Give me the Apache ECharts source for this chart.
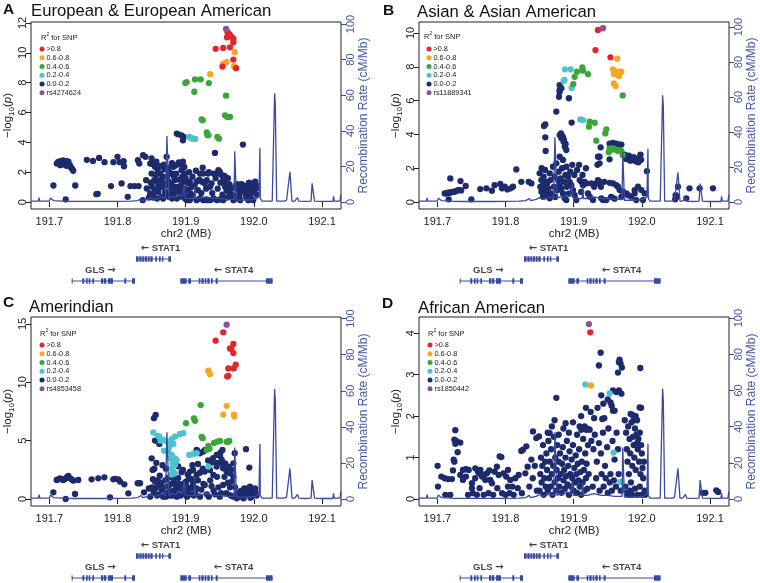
<!DOCTYPE html>
<html><head><meta charset="utf-8">
<script src="https://cdn.jsdelivr.net/npm/echarts@6/dist/echarts.min.js"></script>
<style>html,body{margin:0;padding:0;background:#fff}#c{width:760px;height:583px}</style>
</head><body><div id="c"></div>
<script>
// ---------------- DATA ----------------
const xTicks = [191.7, 191.8, 191.9, 192.0, 192.1];
const recTicks = [0, 20, 40, 60, 80, 100];
const r2Names = ['>0.8', '0.6-0.8', '0.4-0.6', '0.2-0.4', '0.0-0.2'];
const panelTitles = ['European & European American', 'Asian & Asian American', 'Amerindian', 'African American'];
const panelLetters = ['A', 'B', 'C', 'D'];
const leadNames = ['rs4274624', 'rs11889341', 'rs4853458', 'rs1850442'];
const yTicksA = [0, 2, 4, 6, 8, 10, 12];
const yTicksB = [0, 2, 4, 6, 8, 10];
const yTicksC = [0, 5, 10, 15];
const yTicksD = [0, 1, 2, 3, 4];

// recombination rate (cM/Mb), shared by all panels
const recomb = [[191.673,0.5],[191.684,0.5],[191.685,2.4],[191.686,0.5],[191.700,0.5],[191.7015,2.2],[191.703,1.2],[191.706,0.8],[191.72,0.5],[191.722,1.0],[191.724,0.4],[191.74,0.3],[191.76,0.3],[191.78,0.3],[191.80,0.4],[191.82,0.5],[191.83,0.8],[191.8345,2.0],[191.837,0.8],[191.845,1.5],[191.85,2.5],[191.855,1.5],[191.86,2.0],[191.865,3.0],[191.8705,2.0],[191.8725,37],[191.8745,37],[191.8755,2.0],[191.88,3.0],[191.885,2.5],[191.89,4.0],[191.895,3.0],[191.8975,2.0],[191.898,10],[191.8995,2.0],[191.905,2.0],[191.9125,2.0],[191.9135,9],[191.9145,2.0],[191.92,2.0],[191.93,3.0],[191.94,2.0],[191.95,2.0],[191.96,1.5],[191.971,1.5],[191.972,28.5],[191.9735,28.5],[191.9745,1.0],[191.98,1.0],[191.99,1.0],[192.0,1.5],[192.003,1.5],[192.005,2.0],[192.0075,3.0],[192.009,30.5],[192.0095,2.0],[192.012,0.5],[192.02,0.5],[192.027,0.5],[192.0305,61],[192.0315,55],[192.0335,0.5],[192.038,0.5],[192.040,1.5],[192.042,0.5],[192.045,0.5],[192.048,1.0],[192.053,17],[192.0545,17],[192.056,0.5],[192.06,0.5],[192.064,2.5],[192.066,0.5],[192.075,0.3],[192.084,0.5],[192.0855,10.5],[192.0875,10.5],[192.089,0.5],[192.10,0.3],[192.116,0.3],[192.117,3.2],[192.118,0.5],[192.1265,0.5],[192.1275,4.0]];

// Panel A
const A_lead = [[191.9593,11.6]];
const A_r08 = [[191.9615,11.38],[191.9635,11.27],[191.9655,11.16],[191.968,11.04],[191.970,10.93],[191.970,10.71],[191.9606,11.04],[191.944,10.27],[191.955,10.33],[191.965,10.37],[191.970,9.55],[191.954,9.08],[191.974,8.97]];
const A_r06 = [[191.972,10.04],[191.960,9.37],[191.955,9.27],[191.971,9.1],[191.936,8.57]];
const A_r04 = [[191.9015,8.04],[191.8995,7.97],[191.9137,8.22],[191.922,8.22],[191.934,7.97],[191.9127,7.39],[191.9592,7.13],[191.9235,5.54],[191.925,5.48],[191.9577,5.81],[191.961,5.70],[191.965,5.70],[191.931,4.66],[191.932,4.48],[191.9465,4.36],[191.949,4.25]];
const A_r02 = [[191.9054,4.36],[191.910,4.25],[191.914,4.23],[191.934,4.48],[191.9085,4.30]];
const A_r00 = [[191.711,2.58],[191.713,2.69],[191.716,2.74],[191.718,2.63],[191.720,2.80],[191.723,2.65],[191.725,2.74],[191.728,2.58],[191.730,2.47],[191.733,2.25],[191.735,2.10],[191.716,2.47],[191.720,2.52],[191.725,2.43],[191.728,2.70],[191.722,2.60],[191.731,2.35],
[191.706,1.11],[191.724,0.18],[191.738,1.11],[191.755,2.83],[191.764,2.76],[191.773,2.96],[191.769,0.53],[191.771,0.55],[191.781,2.67],[191.7905,1.07],[191.794,2.67],[191.800,3.03],[191.803,2.67],[191.809,2.74],[191.8095,2.40],[191.806,1.25],[191.815,0.35],[191.819,1.07],[191.825,1.07],[191.831,1.07],[191.830,2.81],[191.832,2.58],[191.8375,3.14],[191.841,3.03],[191.850,2.92],[191.848,2.58],[191.842,1.47],[191.837,0.13],[191.843,0.91],
[191.850,1.91],[191.852,2.54],[191.855,2.36],[191.854,1.47],[191.858,1.36],[191.860,0.69],[191.848,0.58],[191.861,1.02],[191.865,0.36],[191.867,1.69],[191.870,1.14],[191.872,3.03],[191.875,1.36],[191.877,0.58],[191.880,1.91],[191.882,2.36],[191.884,1.02],[191.887,4.59],[191.889,4.54],[191.894,4.47],[191.897,4.36],[191.896,4.14],[191.892,2.58],[191.894,2.14],[191.897,1.36],[191.899,1.91],[191.902,1.36],[191.904,1.25],[191.906,1.36],[191.909,1.02],[191.911,0.36],[191.916,1.36],[191.921,1.91],[191.924,1.36],[191.926,1.91],[191.928,1.25],[191.931,1.47],[191.933,1.91],[191.936,1.02],[191.938,1.25],[191.941,1.91],[191.943,3.29],[191.946,1.91],[191.948,2.14],[191.950,2.03],[191.953,1.80],[191.955,1.47],[191.958,1.02],[191.960,0.80],[191.963,0.69],[191.965,0.58],[191.968,0.36],[191.970,0.13],[191.975,0.91],[191.977,0.80],[191.980,0.69],[191.984,3.85],[191.985,0.80],[191.987,0.76],[191.990,0.91],[191.992,1.02],[191.994,0.91],[191.997,1.14],[191.999,1.25],[192.002,1.36],[191.992,0.13],[191.980,0.13],[191.999,0.13],
[191.851,1.02],[191.853,0.58],[191.855,0.80],[191.858,0.24],[191.860,1.14],[191.862,1.47],[191.865,1.02],[191.867,0.24],[191.870,0.69],[191.872,0.47],[191.875,0.36],[191.877,1.02],[191.880,0.24],[191.882,0.58],[191.884,1.47],[191.887,0.24],[191.889,1.02],[191.892,0.69],[191.894,0.36],[191.897,0.58],[191.899,0.24],[191.902,0.13],[191.904,0.36],[191.906,0.13],[191.909,0.47],[191.916,0.13],[191.921,0.24],[191.926,0.13],[191.931,0.13],[191.936,0.13],[191.941,0.24],[191.946,0.13],[191.950,0.18],[191.955,0.13],
[191.890,2.65],[191.893,2.50],[191.896,2.70],[191.898,2.35],[191.885,2.45],[191.880,2.60],[191.957,1.75],[191.962,1.60],[191.978,1.00],[191.982,1.20],[191.988,0.55],[191.995,0.45],[192.003,1.15],[192.005,0.95],[191.971,0.45],[191.973,1.10],
[191.852,0.3],[191.856,1.8],[191.859,2.1],[191.863,1.9],[191.866,1.3],[191.869,2.2],[191.873,1.7],[191.876,2.0],[191.879,1.2],[191.881,0.9],[191.883,1.7],[191.886,1.9],[191.888,0.7],[191.891,1.5],[191.893,1.1],[191.895,1.7],[191.898,0.9],[191.900,1.6],[191.903,0.8],[191.905,2.0],[191.907,0.6],[191.910,1.7],[191.913,1.1],[191.915,2.1],[191.918,0.8],[191.920,1.5],[191.923,0.6],[191.925,2.3],[191.930,0.9],[191.934,2.0],[191.939,0.6],[191.944,1.6],[191.947,0.9],[191.951,1.3],[191.954,0.5],[191.957,1.25],[191.961,0.3],[191.964,1.2],[191.967,0.9],[191.972,0.2],[191.976,1.2],[191.979,0.4],[191.983,0.9],[191.986,1.1],[191.989,0.3],[191.991,0.75],[191.993,1.3],[191.996,0.7],[191.998,1.0],[192.001,0.8],[192.004,0.5],[191.846,0.3],[191.849,1.3],[191.857,2.7],[191.862,2.4],[191.868,2.5],[191.874,2.3]];

// Panel B
const B_lead = [[191.943,10.28]];
const B_r08 = [[191.9356,10.18],[191.932,8.99],[191.954,8.56]];
const B_r06 = [[191.964,8.48],[191.9576,7.85],[191.959,7.57],[191.9674,7.71],[191.970,7.71],[191.9664,7.46],[191.959,7.02],[191.9616,6.86],[191.9605,7.75]];
const B_r04 = [[191.972,6.31],[191.9127,7.97],[191.9136,7.77],[191.921,7.57],[191.905,7.71],[191.9014,7.41],[191.8995,6.98],[191.9234,4.75],[191.9308,4.69],[191.9224,4.46],[191.948,4.30],[191.9464,4.06],[191.9332,3.63],[191.9527,3.18],[191.955,3.10],[191.9576,3.18],[191.960,3.12],[191.9626,3.08],[191.965,3.02],[191.970,3.02],[191.972,2.78],[191.9515,2.95]];
const B_r02 = [[191.8872,7.85],[191.8955,7.85],[191.8853,7.16],[191.8865,7.22],[191.897,6.75],[191.9098,4.89],[191.9136,4.85]];
const B_r00 = [[191.8794,6.92],[191.882,6.73],[191.8794,6.53],[191.893,6.14],[191.8785,6.23],[191.8795,6.63],[191.8745,5.35],[191.897,4.70],
[191.8584,4.60],[191.8565,4.50],[191.8584,3.83],[191.8589,3.02],[191.882,3.77],[191.8834,3.90],[191.8843,3.83],[191.8814,4.06],[191.8858,3.67],[191.8873,3.47],[191.8795,3.96],[191.8853,3.57],[191.8882,3.43],[191.887,3.27],[191.8892,3.08],[191.9396,3.24],[191.938,2.68],[191.9527,2.53],[192.0075,1.83],
[191.975,2.80],[191.978,2.70],[191.981,2.75],[191.984,2.60],[191.987,2.50],[191.990,2.45],[191.993,2.55],[191.996,2.60],[191.998,2.80],[191.977,2.55],[191.983,2.45],[191.988,2.65],[191.992,2.40],[191.995,2.35],[191.999,2.50],[191.9528,3.45],[191.9577,3.50],[191.9626,3.45],[191.9675,3.40],[191.970,3.40],[191.9357,2.68],[191.938,2.29],
[191.719,1.40],[191.7108,0.51],[191.7132,0.51],[191.7156,0.55],[191.718,0.55],[191.7205,0.58],[191.723,0.60],[191.7254,0.61],[191.7279,0.65],[191.7303,0.71],[191.7328,0.71],[191.735,0.69],[191.7166,0.16],[191.734,1.24],[191.7416,0.95],[191.7499,0.16],[191.763,0.77],[191.772,0.81],[191.780,0.67],[191.784,1.00],[191.7924,1.07],[191.7949,0.81],[191.7988,0.91],[191.8027,0.75],[191.8076,0.81],[191.811,0.91],[191.8159,1.93],[191.8232,1.20],[191.834,1.20],[191.838,1.10],
[191.8501,1.70],[191.8526,1.30],[191.855,1.00],[191.8575,0.81],[191.860,0.61],[191.8624,0.41],[191.8648,0.22],[191.8526,0.61],[191.855,0.32],[191.860,1.20],[191.8648,1.70],[191.8697,2.09],[191.8721,1.50],[191.877,1.30],[191.8795,1.00],[191.8819,0.81],[191.8843,0.51],[191.8868,0.22],[191.8892,0.12],[191.8746,2.29],[191.8795,2.68],[191.8843,2.49],[191.8892,2.09],[191.8917,1.50],[191.8941,1.20],[191.8966,1.00],[191.899,0.71],[191.9015,0.41],[191.9039,0.12],[191.9088,1.30],[191.9112,1.20],[191.9137,1.00],[191.9161,1.20],[191.9186,1.10],[191.921,0.51],[191.9235,0.32],[191.9284,0.12],[191.9333,1.10],[191.9357,1.30],[191.9381,1.20],[191.9406,0.22],[191.943,0.12],[191.9479,0.12],[191.9528,1.14],[191.9577,1.10],[191.9626,1.00],[191.965,0.91],[191.9675,0.71],[191.9724,0.61],[191.9773,0.51],[191.9797,0.41],[191.9846,0.32],[191.9895,0.51],[191.9919,0.12],[191.9944,0.91],[191.9993,0.71],[192.0017,0.12],[192.0042,0.51],[191.9895,0.71],
[191.851,0.90],[191.853,2.00],[191.856,1.50],[191.858,1.90],[191.861,1.10],[191.863,0.80],[191.866,1.30],[191.868,0.50],[191.871,0.90],[191.873,0.30],[191.876,0.70],[191.878,1.80],[191.881,1.40],[191.883,2.00],[191.886,1.20],[191.888,1.60],[191.890,0.90],[191.893,0.50],[191.895,1.80],[191.898,2.20],[191.901,1.60],[191.905,1.90],[191.908,2.20],[191.911,0.60],[191.913,1.60],[191.918,2.00],[191.926,1.10],[191.930,0.90],[191.935,2.20],[191.940,0.90],[191.945,1.20],[191.955,0.30],[191.960,0.20],[191.970,0.30],
[192.0496,0.41],[192.053,0.91],[192.0653,0.22],[192.070,0.81],[192.0848,0.81],[192.1044,0.81],[192.049,0.16],[192.051,0.30]];

// Panel C
const C_lead = [[191.9601,14.94]];
const C_r08 = [[191.9552,14.29],[191.944,13.57],[191.970,13.29],[191.965,12.91],[191.967,12.86],[191.970,12.51],[191.9734,11.51],[191.9705,11.19],[191.9626,11.19],[191.9626,10.56],[191.961,10.50]];
const C_r06 = [[191.9332,11.0],[191.9357,10.7],[191.9601,7.99],[191.9552,7.24],[191.9709,7.24],[191.9714,7.07]];
const C_r04 = [[191.922,8.05],[191.9122,6.90],[191.9137,6.70],[191.9005,6.50],[191.9235,5.33],[191.925,5.21],[191.9464,4.92],[191.9504,4.98],[191.9626,4.90],[191.964,4.98],[191.960,4.90],[191.9416,4.81],[191.9333,4.55],[191.9308,4.21],[191.935,4.30]];
const C_r02 = [[191.8526,5.70],[191.8614,5.35],[191.8672,5.07],[191.8721,4.92],[191.877,4.78],[191.8819,4.72],[191.8682,4.15],[191.8746,4.07],[191.8795,5.12],[191.8843,5.35],[191.8917,5.58],[191.8966,5.64],[191.8795,3.78],[191.8843,3.49],[191.882,3.21],[191.8843,2.92],[191.8795,2.63],[191.882,2.35],[191.881,3.06],[191.8868,3.35],[191.9054,3.78],[191.9113,3.86],[191.9161,3.92],[191.9333,2.78],[191.863,5.00],[191.859,5.40],[191.876,4.50],[191.878,3.50],[191.884,2.20],[191.8795,2.10]];
const C_r00 = [[191.8535,6.93],[191.856,7.21],[191.855,5.01],[191.8614,4.72],[191.8501,3.49],[191.8516,2.49],[191.921,3.92],[191.926,4.07],[191.9284,4.21],[191.9161,4.21],[191.9455,3.78],[191.9504,3.69],[191.970,3.06],[191.9885,4.27],[191.9934,2.69],[191.917,4.12],[191.938,3.12],[191.951,3.98],[191.954,4.21],[191.972,3.92],
[191.7108,1.63],[191.7132,1.69],[191.7156,1.77],[191.718,1.69],[191.7205,1.63],[191.723,1.72],[191.7254,1.86],[191.7279,1.98],[191.7303,1.77],[191.7328,1.69],[191.7352,1.57],[191.7425,1.63],[191.7059,0.57],[191.724,0.0],[191.7377,0.43],[191.762,1.69],[191.7719,1.77],[191.7807,1.86],[191.789,0.14],[191.7939,1.69],[191.7963,1.72],[191.8012,1.69],[191.8037,1.49],[191.810,1.26],[191.8159,0.49],[191.8296,1.35],[191.833,1.35],[191.8389,0.57],
[191.9064,2.35],[191.911,2.49],[191.916,2.06],[191.921,2.26],[191.928,2.35],[191.9357,2.49],[191.9406,2.06],[191.9455,2.78],[191.9528,3.06],[191.955,2.63],[191.9601,2.35],[191.965,2.20],[191.970,1.92],[191.9675,2.49],[191.963,2.78],[191.958,3.06],[191.953,3.35],
[191.851,1.0],[191.853,0.6],[191.855,1.5],[191.858,0.3],[191.860,1.2],[191.862,2.0],[191.865,0.8],[191.867,0.2],[191.870,1.6],[191.872,0.5],[191.875,1.1],[191.877,0.3],[191.880,1.9],[191.882,0.7],[191.884,1.3],[191.887,0.2],[191.889,1.8],[191.892,0.9],[191.894,2.3],[191.897,0.5],[191.899,1.4],[191.902,0.2],[191.904,1.0],[191.906,0.4],[191.909,1.7],[191.912,0.3],[191.916,0.9],[191.921,0.2],[191.926,1.3],[191.931,0.4],[191.936,1.6],[191.941,0.7],[191.946,1.9],[191.950,0.2],[191.955,1.2],[191.960,0.5],[191.965,1.0],[191.968,1.5],[191.970,0.2],[191.854,2.6],[191.857,3.1],[191.866,2.9],[191.871,2.6],[191.889,2.8],[191.896,2.5],[191.903,2.1],[191.910,2.9],[191.918,3.0],[191.925,2.6],[191.933,3.3],[191.940,3.5],[191.946,3.1],
[191.9797,0.20],[191.9822,0.34],[191.9846,0.43],[191.987,0.54],[191.9895,0.77],[191.9919,0.92],[191.9944,1.06],[191.9968,0.20],[191.9993,0.50],[192.0017,0.90],[191.975,0.06],[191.985,0.06],[191.995,0.10],[192.004,0.30],
[191.852,1.7],[191.856,0.9],[191.859,1.6],[191.861,0.4],[191.864,1.4],[191.868,1.0],[191.871,0.2],[191.874,1.8],[191.876,0.6],[191.879,1.3],[191.881,0.3],[191.883,1.7],[191.886,0.9],[191.888,0.4],[191.891,1.3],[191.893,0.3],[191.895,1.0],[191.898,0.8],[191.901,1.5],[191.903,0.5],[191.905,1.8],[191.908,0.9],[191.911,1.3],[191.914,0.5],[191.918,1.6],[191.923,0.8],[191.928,1.2],[191.934,0.2],[191.938,1.1],[191.943,0.4],[191.948,1.0],[191.952,0.5],[191.957,1.9],[191.962,1.4],[191.966,0.3],[191.9725,1.0],[191.976,0.5],[191.981,0.7],[191.986,0.9],[191.991,0.4],[191.997,0.7],[192.002,0.6],[191.848,0.2],[191.846,0.9]];

// Panel D
const D_lead = [[191.9224,4.22]];
const D_r08 = [[191.9244,4.02]];
const D_r06 = [[191.9253,2.74]];
const D_r04 = [];
const D_r02 = [[191.9171,2.76],[191.9528,2.55],[191.9586,1.12],[191.9684,0.41]];
const D_r00 = [[191.9396,3.53],[191.937,3.22],[191.9674,3.36],[191.9688,3.27],[191.9708,3.17],[191.9664,3.30],[191.965,3.05],[191.9978,3.16],[191.9406,2.50],[191.9576,2.62],[191.9626,2.58],[191.9664,2.62],[191.970,2.54],[191.9435,2.30],[191.954,2.33],[191.9557,2.25],[191.9576,2.13],[191.960,2.13],[191.9968,2.21],[191.999,2.20],[191.9836,2.05],[191.986,2.03],[191.942,1.93],[191.8882,1.83],[191.8746,2.44],
[191.7264,1.66],[191.725,1.43],[191.7288,1.39],[191.7337,1.36],[191.7264,1.33],[191.7298,1.13],[191.725,0.90],[191.7229,0.69],[191.7214,0.48],[191.724,0.95],[191.7004,0.80],[191.7059,0.54],[191.7107,0.50],[191.7009,0.30],[191.7156,0.48],[191.719,0.10],[191.7117,0.10],
[191.7337,0.58],[191.7376,0.70],[191.742,0.72],[191.746,0.70],[191.7376,0.46],[191.742,0.54],[191.7508,0.38],[191.7508,0.26],[191.7557,0.74],[191.7596,0.66],[191.7631,0.70],[191.7655,0.54],[191.7704,0.46],[191.7728,0.62],[191.7763,0.69],[191.7777,0.46],[191.7801,0.38],[191.7874,0.78],[191.790,0.58],[191.7939,1.01],[191.8036,0.70],[191.807,0.46],[191.8144,0.50],[191.8193,0.58],[191.8036,0.30],
[191.745,0.10],[191.752,0.14],[191.758,0.10],[191.762,0.26],[191.768,0.10],[191.775,0.14],[191.782,0.10],[191.788,0.26],[191.795,0.14],[191.800,0.10],[191.806,0.14],[191.812,0.10],[191.818,0.26],[191.824,0.14],[191.7555,0.50],[191.7615,0.62],[191.7685,0.58],[191.784,0.66],[191.797,0.62],[191.801,0.54],[191.810,0.30],
[191.7914,1.03],[191.8232,1.16],[191.8257,1.19],[191.8306,1.27],[191.8403,1.63],[191.8452,1.47],[191.8491,1.51],[191.8291,0.62],[191.8325,0.78],[191.8648,1.59],[191.835,0.30],[191.840,0.50],[191.843,0.80],[191.846,0.20],[191.838,0.95],
[191.850,0.2],[191.851,0.6],[191.852,1.0],[191.853,0.4],[191.854,0.8],[191.855,1.3],[191.856,0.1],[191.857,0.5],[191.858,0.9],[191.859,0.3],[191.860,1.1],[191.861,0.7],[191.862,0.2],[191.863,1.4],[191.864,0.5],[191.865,0.9],[191.866,0.3],[191.867,1.2],[191.868,0.6],[191.869,0.1],[191.870,0.8],[191.871,1.5],[191.872,0.4],[191.873,1.0],[191.874,0.2],[191.875,0.7],[191.876,1.3],[191.877,0.5],[191.878,0.9],[191.879,0.3],[191.880,1.1],[191.881,0.6],[191.882,0.15],[191.883,0.85],[191.884,1.25],[191.885,0.45],[191.886,0.7],[191.887,0.25],[191.888,1.0],[191.889,0.55],[191.890,1.4],[191.891,0.35],[191.892,0.8],[191.893,0.1],[191.894,1.15],[191.895,0.6],[191.896,0.3],[191.897,0.95],[191.898,0.5],[191.899,1.3],[191.900,0.2],[191.901,0.75],[191.902,0.4],[191.903,1.05],[191.904,0.6],[191.905,0.15],[191.906,0.85],[191.907,0.45],[191.908,1.2],[191.909,0.3],[191.910,0.65],[191.911,0.1],[191.912,0.9],[191.913,0.4],[191.914,1.45],[191.915,0.7],[191.916,0.2],[191.917,1.1],[191.918,0.5],[191.919,0.85],[191.920,0.25],[191.921,1.3],[191.922,0.6],
[191.862,1.6],[191.868,1.75],[191.872,1.9],[191.878,1.55],[191.885,1.7],[191.893,1.6],[191.899,1.85],[191.905,1.55],[191.9088,1.75],[191.9112,1.67],[191.9137,1.71],[191.9161,1.75],[191.9186,1.67],[191.921,1.69],[191.9235,1.67],[191.926,1.4],[191.929,1.2],[191.931,1.55],[191.934,0.9],[191.937,1.35],[191.940,1.1],[191.943,1.6],[191.946,0.8],[191.949,1.25],[191.951,1.7],[191.954,0.6],[191.957,1.4],[191.960,0.95],[191.963,1.6],[191.965,1.2],[191.925,2.1],[191.930,1.95],[191.935,2.2],[191.945,1.95],[191.950,2.4],[191.918,2.2],[191.911,2.0],[191.928,0.3],[191.933,0.5],[191.938,0.2],[191.941,0.6],[191.944,0.3],[191.947,0.5],[191.950,0.15],[191.953,0.4],[191.956,0.2],[191.959,0.45],[191.962,0.3],[191.966,0.6],[191.969,0.2],
[191.975,1.9],[191.977,1.6],[191.978,1.2],[191.979,0.9],[191.980,1.75],[191.981,0.6],[191.982,1.45],[191.983,1.1],[191.984,0.4],[191.985,1.85],[191.986,0.8],[191.987,1.5],[191.988,1.3],[191.989,1.0],[191.990,1.7],[191.991,0.7],[191.992,1.55],[191.993,1.35],[191.994,1.2],[191.995,1.45],[191.996,0.9],[191.997,1.6],[191.998,0.6],[191.999,1.3],[192.000,1.1],[192.001,0.75],[192.002,0.5],[192.003,0.9],[192.004,0.2],[192.005,0.1],[191.976,0.3],[191.978,0.15],[191.980,0.1],[191.983,0.2],[191.986,0.1],[191.990,0.25],[191.994,0.1],[191.997,0.3],[192.000,0.1],[191.988,1.9],[191.991,2.0],[191.993,1.9],
[192.0888,0.15],[192.0932,0.15],[192.1093,0.21],[192.112,0.17]];

// genes (MB)
const geneNames = ['GLS', 'STAT1', 'STAT4'];
const geneStart = [191.7328, 191.8271, 191.8922];
const geneEnd = [191.8257, 191.8785, 192.0276];
const geneStrand = [1, -1, -1];
const geneRow = [0.5, 1.5, 0.5];
const geneExons = [
  [[191.7328,191.7342],[191.7484,191.7513],[191.7538,191.7562],[191.7577,191.7601],[191.7631,191.7655],[191.7758,191.7787],[191.7797,191.7836],[191.7861,191.7934],[191.8100,191.8129],[191.8213,191.8257]],
  [[191.8271,191.8310],[191.8320,191.8355],[191.8364,191.8394],[191.8403,191.8433],[191.8443,191.8472],[191.8482,191.8516],[191.8555,191.8579],[191.8609,191.8633],[191.8653,191.8672],[191.8746,191.8785]],
  [[191.8922,191.9015],[191.9039,191.9078],[191.9191,191.9215],[191.9230,191.9264],[191.9279,191.9303],[191.9318,191.9352],[191.9372,191.9396],[191.9440,191.9470],[192.0178,192.0276]]
];

// ---------------- BUILD ----------------
const BLUE = '#3a4a9f';
const BLUE_TXT = '#4656a8';
const COLORS = ['#e3262b', '#f5a623', '#3aa638', '#4ec2cf', '#1d2a6c', '#8c4fa1'];
const FONT = '"Liberation Sans", Arial, sans-serif';
const X_MIN = 191.6731, X_MAX = 192.1279;

const panelData = [
  [A_r08, A_r06, A_r04, A_r02, A_r00, A_lead],
  [B_r08, B_r06, B_r04, B_r02, B_r00, B_lead],
  [C_r08, C_r06, C_r04, C_r02, C_r00, C_lead],
  [D_r08, D_r06, D_r04, D_r02, D_r00, D_lead]
];
const yTicks = [yTicksA, yTicksB, yTicksC, yTicksD];
// layout (px)
const L = [
  {left: 31, top: 22, w: 310, h: 187, ymin: -0.464, ymax: 12.064, rmin: -3.93, rmax: 101.1, gTop: 248, legL: 39.5, legT: 45, hdrL: 41, hdrT: 32, ltrL: 3, ltrT: 2, ttlL: 31, ttlT: 3},
  {left: 419, top: 22, w: 310, h: 187, ymin: -0.41, ymax: 10.65, rmin: -4.0, rmax: 102.9, gTop: 248, legL: 426.5, legT: 45, hdrL: 424, hdrT: 31, ltrL: 383, ltrT: 3, ttlL: 417, ttlT: 4},
  {left: 31, top: 317, w: 310, h: 189, ymin: -0.6, ymax: 15.6, rmin: -3.87, rmax: 100.9, gTop: 545, legL: 39.5, legT: 341, hdrL: 40, hdrT: 328, ltrL: 3, ltrT: 295, ttlL: 29, ttlT: 299},
  {left: 419, top: 317, w: 310, h: 189, ymin: -0.169, ymax: 4.39, rmin: -3.86, rmax: 100.6, gTop: 545, legL: 427.5, legT: 341, hdrL: 428, hdrT: 328, ltrL: 382, ltrT: 296, ttlL: 418, ttlT: 300}
];

const grid = [], xAxis = [], yAxis = [], series = [], legend = [], title = [], graphic = [];

L.forEach((p, i) => {
  grid.push({left: p.left, top: p.top, width: p.w, height: p.h, show: true, borderColor: '#222', borderWidth: 1, backgroundColor: 'transparent', containLabel: false, outerBoundsMode: 'none'});
  xAxis.push({gridIndex: i, type: 'value', min: X_MIN, max: X_MAX,
    axisLine: {show: false}, splitLine: {show: false},
    axisTick: {show: true, customValues: xTicks, length: 5, lineStyle: {color: '#222'}},
    axisLabel: {customValues: xTicks, formatter: v => v.toFixed(1), fontSize: 11, color: '#222', margin: 7, fontFamily: FONT},
    name: 'chr2 (MB)', nameLocation: 'middle', nameGap: 18,
    nameTextStyle: {fontSize: 11.5, color: '#222', fontFamily: FONT, verticalAlign: 'top'}});
  yAxis.push({gridIndex: i, type: 'value', min: p.ymin, max: p.ymax, position: 'left',
    axisLine: {show: false}, splitLine: {show: false},
    axisTick: {show: true, customValues: yTicks[i], length: 5, lineStyle: {color: '#222'}},
    axisLabel: {customValues: yTicks[i], rotate: 90, fontSize: 11, color: '#222', margin: 3, fontFamily: FONT},
    name: '{t|−log}{s|10}{t|(}{i|p}{t|)}', nameLocation: 'middle', nameGap: 10, nameRotate: 90,
    nameTextStyle: {color: '#222', fontFamily: FONT, rich: {
      t: {fontSize: 11.5, color: '#222', fontFamily: FONT, lineHeight: 16, verticalAlign: 'middle'},
      i: {fontSize: 11.5, color: '#222', fontFamily: FONT, fontStyle: 'italic', lineHeight: 16, verticalAlign: 'middle'},
      s: {fontSize: 8, color: '#222', fontFamily: FONT, lineHeight: 16, verticalAlign: 'bottom'}}}});
  yAxis.push({gridIndex: i, type: 'value', min: p.rmin, max: p.rmax, position: 'right',
    axisLine: {show: false}, splitLine: {show: false},
    axisTick: {show: true, customValues: recTicks, length: 5, lineStyle: {color: BLUE}},
    axisLabel: {customValues: recTicks, rotate: 90, fontSize: 11, color: BLUE_TXT, margin: 4, fontFamily: FONT},
    name: 'Recombination Rate (cM/Mb)', nameLocation: 'middle', nameGap: 17, nameRotate: 90,
    nameTextStyle: {fontSize: 12, color: BLUE_TXT, fontFamily: FONT}});
});
// gene grids: xAxis 4..7, yAxis 8..11
L.forEach((p, i) => {
  grid.push({left: p.left, top: p.gTop, width: p.w, height: 44, show: false, containLabel: false, outerBoundsMode: 'none'});
  xAxis.push({gridIndex: 4 + i, type: 'value', min: X_MIN, max: X_MAX, show: false});
  yAxis.push({gridIndex: 4 + i, type: 'value', min: 0, max: 2, show: false});
});

// gene geometry as broken line series (built from the gene arrays)
const geneBodyData = [], exonData = [], geneLabelData = [];
geneNames.forEach((n, gi) => {
  geneBodyData.push([geneStart[gi], geneRow[gi]], [geneEnd[gi], geneRow[gi]], [geneEnd[gi], '-']);
  geneExons[gi].forEach(e => exonData.push([e[0], geneRow[gi]], [e[1], geneRow[gi]], [e[1], '-']));
  const fwd = geneStrand[gi] > 0;
  geneLabelData.push({value: [(geneStart[gi] + geneEnd[gi]) / 2, geneRow[gi]],
    name: fwd ? '{g|' + n + '} {a|\u2192}' : '{a|\u2190} {g|' + n + '}',
    label: {offset: [fwd ? -3 : 7, 0]}});
});

L.forEach((p, i) => {
  const names = r2Names.concat([leadNames[i]]);
  const order = [4, 3, 2, 1, 0, 5];
  order.forEach(k => {
    series.push({type: 'scatter', name: names[k], xAxisIndex: i, yAxisIndex: 2 * i,
      data: panelData[i][k], symbol: 'circle', symbolSize: 6.3,
      itemStyle: {color: COLORS[k], opacity: 1}, silent: true, z: 2 + (k === 5 ? 1 : 0), animation: false});
  });
  series.push({type: 'line', name: 'recomb' + i, xAxisIndex: i, yAxisIndex: 2 * i + 1, data: recomb,
    showSymbol: false, symbol: 'none', lineStyle: {color: BLUE, width: 1.3}, z: 4, silent: true, animation: false});
  series.push({type: 'line', name: 'genebody' + i, xAxisIndex: 4 + i, yAxisIndex: 8 + i, data: geneBodyData,
    showSymbol: false, symbol: 'none', connectNulls: false, lineStyle: {color: BLUE, width: 1.1}, silent: true, animation: false});
  series.push({type: 'line', name: 'exon' + i, xAxisIndex: 4 + i, yAxisIndex: 8 + i, data: exonData,
    showSymbol: false, symbol: 'none', connectNulls: false, lineStyle: {color: BLUE, width: 5.5, cap: 'butt'}, silent: true, animation: false});
  series.push({type: 'scatter', name: 'genelabel' + i, xAxisIndex: 4 + i, yAxisIndex: 8 + i, data: geneLabelData,
    symbolSize: 1, itemStyle: {color: 'rgba(0,0,0,0)'}, silent: true, animation: false,
    label: {show: true, position: 'top', distance: 5, formatter: '{b}', color: '#111', fontSize: 9.5, fontWeight: 'bold', fontFamily: FONT,
      rich: {g: {fontSize: 9.5, fontWeight: 'bold', fontFamily: FONT, color: '#111'},
             a: {fontSize: 10, fontWeight: 'bold', fontFamily: '"DejaVu Sans", sans-serif', color: '#111'}}}});
  legend.push({orient: 'vertical', left: p.legL, top: p.legT, padding: 0, itemGap: 0.75,
    itemWidth: 5, itemHeight: 5, icon: 'circle', selectedMode: false,
    data: names.map((n, k) => ({name: n, itemStyle: {color: COLORS[k]}})),
    textStyle: {fontSize: 7.3, color: '#222', fontFamily: FONT, lineHeight: 8, padding: [0, 0, 0, -3]}});
  graphic.push({type: 'text', left: p.hdrL, top: p.hdrT, style: {
    text: '{a|R}{s|2}{a| for SNP}', fill: '#222',
    rich: {a: {fontSize: 7.5, fontFamily: FONT, fill: '#222', lineHeight: 10, verticalAlign: 'bottom'},
           s: {fontSize: 5, fontFamily: FONT, fill: '#222', lineHeight: 10, verticalAlign: 'top'}}}});
  title.push({text: panelLetters[i], left: p.ltrL, top: p.ltrT, padding: 0,
    textStyle: {fontSize: 15.5, fontWeight: 'bold', color: '#111', fontFamily: FONT}});
  title.push({text: panelTitles[i], left: p.ttlL, top: p.ttlT, padding: 0,
    textStyle: {fontSize: 16.7, fontWeight: 'normal', color: '#111', fontFamily: FONT}});
});

const chart = echarts.init(document.getElementById('c'), null, {renderer: 'canvas', width: 760, height: 583});
chart.setOption({animation: false, backgroundColor: '#fff', grid, xAxis, yAxis, series, legend, title, graphic, tooltip: {show: false}});
</script></body></html>
